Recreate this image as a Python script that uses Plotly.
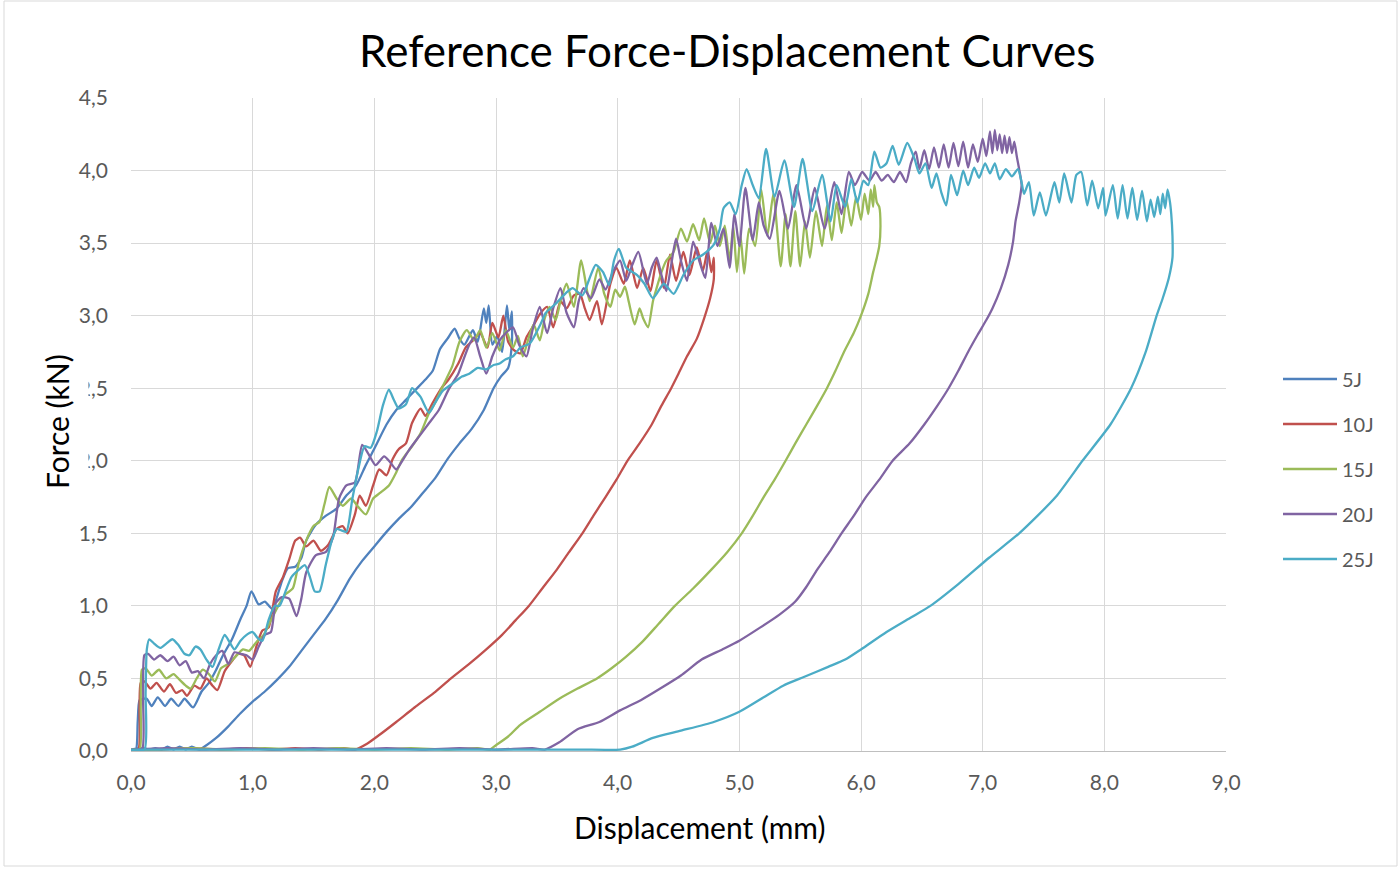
import plotly.graph_objects as go

# ---------------- data ----------------
series_names = ["5J", "10J", "15J", "20J", "25J"]
series_colors = ["#4F81BD", "#C0504D", "#9BBB59", "#8064A2", "#4BACC6"]
x_ticks = [0, 1, 2, 3, 4, 5, 6, 7, 8, 9]
y_ticks = [0, 0.5, 1.0, 1.5, 2.0, 2.5, 3.0, 3.5, 4.0, 4.5]

# (displacement mm, force kN) – loading, unloading, return along zero
curve_5J = [
    (0.00, 0.01), (0.04, 0.01), (0.055, 0.20), (0.07, 0.35), (0.10, 0.36), (0.13, 0.36), (0.17, 0.31),
    (0.22, 0.37), (0.28, 0.31), (0.33, 0.36), (0.39, 0.31), (0.44, 0.36), (0.51, 0.30), (0.58, 0.41),
    (0.64, 0.47), (0.70, 0.56), (0.75, 0.65), (0.83, 0.77), (0.90, 0.91), (0.95, 1.00), (0.99, 1.10),
    (1.05, 1.01), (1.10, 1.03), (1.16, 0.98), (1.24, 1.17), (1.29, 1.26), (1.35, 1.27), (1.40, 1.33),
    (1.44, 1.45), (1.52, 1.56), (1.60, 1.62), (1.69, 1.67), (1.77, 1.76), (1.85, 1.83), (1.93, 1.97),
    (2.01, 2.10), (2.10, 2.25), (2.18, 2.35), (2.26, 2.42), (2.34, 2.49), (2.42, 2.56), (2.48, 2.62),
    (2.54, 2.77), (2.60, 2.84), (2.66, 2.91), (2.70, 2.84), (2.74, 2.80), (2.81, 2.90), (2.85, 2.82),
    (2.90, 3.05), (2.92, 2.95), (2.94, 3.07), (2.97, 2.80), (3.01, 2.86), (3.05, 2.75), (3.09, 3.07),
    (3.11, 2.90), (3.13, 3.03), (3.13, 2.80),
    (3.10, 2.64), (3.04, 2.58), (2.98, 2.50), (2.90, 2.35), (2.80, 2.22), (2.70, 2.12), (2.60, 2.01),
    (2.50, 1.88), (2.40, 1.78), (2.30, 1.68), (2.20, 1.60), (2.10, 1.51), (2.00, 1.41), (1.90, 1.31),
    (1.80, 1.19), (1.70, 1.04), (1.60, 0.91), (1.50, 0.80), (1.40, 0.69), (1.30, 0.58), (1.20, 0.49),
    (1.10, 0.41), (1.00, 0.34), (0.90, 0.26), (0.80, 0.17), (0.70, 0.09), (0.62, 0.04), (0.56, 0.01),
    (0.50, 0.03), (0.45, 0.01), (0.40, 0.03), (0.35, 0.01), (0.30, 0.03), (0.25, 0.01), (0.20, 0.02),
    (0.15, 0.01), (0.10, 0.02), (0.00, 0.01),
]

curve_10J = [
    (0.00, 0.01), (0.06, 0.01), (0.07, 0.30), (0.08, 0.47), (0.11, 0.48), (0.16, 0.43), (0.21, 0.47),
    (0.27, 0.41), (0.32, 0.46), (0.37, 0.40), (0.42, 0.42), (0.46, 0.38), (0.52, 0.45), (0.57, 0.43),
    (0.62, 0.50), (0.67, 0.45), (0.71, 0.42), (0.77, 0.55), (0.83, 0.62), (0.88, 0.67), (0.93, 0.66),
    (0.98, 0.58), (1.03, 0.72), (1.08, 0.83), (1.13, 0.85), (1.19, 1.10), (1.25, 1.20), (1.30, 1.32),
    (1.35, 1.45), (1.39, 1.47), (1.44, 1.41), (1.50, 1.45), (1.56, 1.38), (1.62, 1.42), (1.69, 1.53),
    (1.74, 1.55), (1.78, 1.50), (1.84, 1.63), (1.88, 1.76), (1.93, 1.69), (1.99, 1.83), (2.04, 1.94),
    (2.10, 1.90), (2.15, 2.01), (2.20, 2.08), (2.26, 2.12), (2.31, 2.26), (2.38, 2.36), (2.42, 2.31),
    (2.48, 2.40), (2.56, 2.51), (2.61, 2.56), (2.69, 2.67), (2.75, 2.78), (2.81, 2.83), (2.87, 2.88),
    (2.93, 2.78), (2.97, 2.95), (3.02, 2.85), (3.06, 3.00), (3.10, 2.82), (3.15, 2.76), (3.20, 2.74),
    (3.25, 2.85), (3.30, 2.92), (3.36, 3.01), (3.42, 3.06), (3.47, 2.92), (3.53, 3.10), (3.58, 3.05),
    (3.64, 3.14), (3.69, 3.15), (3.73, 3.05), (3.77, 2.97), (3.83, 3.10), (3.87, 2.94), (3.94, 3.22),
    (3.99, 3.33), (4.05, 3.22), (4.10, 3.38), (4.16, 3.19), (4.21, 3.33), (4.27, 3.17), (4.32, 3.38),
    (4.38, 3.19), (4.43, 3.42), (4.48, 3.24), (4.54, 3.44), (4.59, 3.28), (4.65, 3.47), (4.70, 3.31),
    (4.74, 3.45), (4.77, 3.30), (4.79, 3.40),
    (4.79, 3.25), (4.76, 3.12), (4.71, 2.98), (4.65, 2.84), (4.57, 2.72), (4.50, 2.60), (4.44, 2.50),
    (4.36, 2.38), (4.28, 2.25), (4.18, 2.12), (4.08, 2.00), (3.99, 1.87), (3.90, 1.75), (3.80, 1.62),
    (3.71, 1.50), (3.60, 1.37), (3.50, 1.25), (3.38, 1.12), (3.27, 1.00), (3.16, 0.90), (3.05, 0.80),
    (2.92, 0.70), (2.78, 0.60), (2.63, 0.50), (2.49, 0.40), (2.33, 0.30), (2.18, 0.20), (2.04, 0.11),
    (1.94, 0.05), (1.84, 0.01),
    (1.75, 0.02), (1.55, 0.01), (1.35, 0.02), (1.15, 0.01), (0.95, 0.02), (0.75, 0.01), (0.50, 0.02),
    (0.25, 0.01), (0.00, 0.01),
]

curve_15J = [
    (0.00, 0.01), (0.07, 0.01), (0.08, 0.30), (0.09, 0.56), (0.12, 0.57), (0.17, 0.52), (0.23, 0.56),
    (0.29, 0.50), (0.35, 0.53), (0.40, 0.49), (0.45, 0.45), (0.49, 0.43), (0.54, 0.50), (0.59, 0.56),
    (0.64, 0.53), (0.69, 0.48), (0.74, 0.57), (0.80, 0.60), (0.86, 0.65), (0.92, 0.70), (0.97, 0.69),
    (1.03, 0.75), (1.09, 0.80), (1.15, 0.90), (1.21, 1.00), (1.27, 1.08), (1.33, 1.12), (1.38, 1.30),
    (1.44, 1.45), (1.50, 1.55), (1.55, 1.58), (1.59, 1.70), (1.63, 1.82), (1.69, 1.74), (1.74, 1.69),
    (1.81, 1.74), (1.86, 1.69), (1.93, 1.63), (1.99, 1.74), (2.05, 1.78), (2.12, 1.83), (2.18, 1.92),
    (2.23, 2.01), (2.31, 2.10), (2.38, 2.19), (2.45, 2.33), (2.50, 2.40), (2.56, 2.51), (2.64, 2.65),
    (2.70, 2.82), (2.76, 2.90), (2.82, 2.83), (2.87, 2.90), (2.92, 2.78), (2.97, 2.88), (3.03, 2.76),
    (3.08, 2.90), (3.14, 2.78), (3.18, 2.86), (3.22, 2.72), (3.27, 2.85), (3.31, 2.94), (3.36, 2.83),
    (3.40, 2.98), (3.44, 3.06), (3.49, 2.97), (3.53, 3.10), (3.58, 3.22), (3.64, 3.06), (3.70, 3.38),
    (3.77, 3.10), (3.84, 3.33), (3.89, 3.15), (3.94, 3.06), (3.98, 3.18), (4.02, 3.13), (4.06, 3.20),
    (4.09, 3.10), (4.14, 2.94), (4.18, 3.05), (4.21, 2.98), (4.25, 2.92), (4.29, 3.10), (4.32, 3.19),
    (4.36, 3.30), (4.40, 3.38), (4.46, 3.44), (4.52, 3.60), (4.57, 3.51), (4.62, 3.63), (4.67, 3.52),
    (4.71, 3.67), (4.76, 3.50), (4.80, 3.62), (4.84, 3.48), (4.88, 3.62), (4.92, 3.38), (4.95, 3.62),
    (4.98, 3.30), (5.01, 3.55), (5.04, 3.29), (5.08, 3.60), (5.13, 3.48), (5.18, 3.87), (5.23, 3.55),
    (5.28, 3.84), (5.34, 3.34), (5.38, 3.70), (5.42, 3.34), (5.46, 3.72), (5.50, 3.34), (5.54, 3.65),
    (5.58, 3.40), (5.63, 3.72), (5.68, 3.48), (5.72, 3.76), (5.76, 3.52), (5.80, 3.78), (5.84, 3.57),
    (5.88, 3.80), (5.92, 3.62), (5.96, 3.82), (6.00, 3.66), (6.03, 3.84), (6.06, 3.70), (6.08, 3.87),
    (6.10, 3.75), (6.11, 3.90), (6.13, 3.78), (6.15, 3.75),
    (6.16, 3.62), (6.15, 3.48), (6.13, 3.40), (6.10, 3.30), (6.06, 3.15), (6.00, 3.00), (5.94, 2.88),
    (5.86, 2.75), (5.79, 2.62), (5.72, 2.50), (5.64, 2.38), (5.55, 2.25), (5.46, 2.12), (5.38, 2.00),
    (5.29, 1.87), (5.20, 1.75), (5.11, 1.62), (5.02, 1.50), (4.90, 1.37), (4.77, 1.25), (4.62, 1.12),
    (4.47, 1.00), (4.33, 0.87), (4.20, 0.75), (4.07, 0.65), (3.95, 0.57), (3.83, 0.50), (3.67, 0.43),
    (3.52, 0.36), (3.36, 0.27), (3.20, 0.18), (3.10, 0.10), (3.00, 0.04), (2.95, 0.01),
    (2.85, 0.02), (2.60, 0.01), (2.30, 0.02), (2.00, 0.01), (1.70, 0.02), (1.40, 0.01), (1.10, 0.02),
    (0.80, 0.01), (0.50, 0.02), (0.20, 0.01), (0.00, 0.01),
]

curve_20J = [
    (0.00, 0.01), (0.09, 0.01), (0.10, 0.35), (0.11, 0.66), (0.14, 0.67), (0.19, 0.63), (0.24, 0.66),
    (0.30, 0.62), (0.35, 0.65), (0.40, 0.59), (0.45, 0.62), (0.50, 0.54), (0.55, 0.55), (0.60, 0.50),
    (0.65, 0.60), (0.70, 0.66), (0.75, 0.69), (0.80, 0.60), (0.85, 0.68), (0.90, 0.67), (0.95, 0.66),
    (1.00, 0.63), (1.05, 0.72), (1.10, 0.80), (1.15, 0.82), (1.19, 1.02), (1.24, 1.06), (1.30, 1.05),
    (1.36, 0.93), (1.40, 1.05), (1.44, 1.23), (1.52, 1.35), (1.60, 1.37), (1.66, 1.47), (1.71, 1.74),
    (1.77, 1.83), (1.84, 1.85), (1.90, 2.11), (1.95, 2.05), (2.01, 1.97), (2.08, 2.03), (2.13, 1.99),
    (2.18, 1.94), (2.23, 2.00), (2.29, 2.08), (2.37, 2.17), (2.45, 2.26), (2.53, 2.35), (2.61, 2.49),
    (2.69, 2.60), (2.73, 2.69), (2.78, 2.80), (2.82, 2.85), (2.87, 2.72), (2.92, 2.60), (2.97, 2.72),
    (3.03, 2.83), (3.08, 2.88), (3.14, 2.92), (3.19, 2.80), (3.25, 2.72), (3.30, 2.90), (3.36, 3.06),
    (3.42, 2.88), (3.47, 3.05), (3.53, 3.19), (3.58, 3.02), (3.64, 2.92), (3.68, 3.10), (3.72, 3.19),
    (3.78, 3.12), (3.85, 3.25), (3.90, 3.18), (3.96, 3.30), (4.02, 3.38), (4.07, 3.24), (4.12, 3.35),
    (4.17, 3.44), (4.24, 3.22), (4.28, 3.33), (4.32, 3.40), (4.36, 3.28), (4.40, 3.17), (4.44, 3.35),
    (4.48, 3.53), (4.52, 3.38), (4.57, 3.24), (4.62, 3.51), (4.67, 3.38), (4.72, 3.26), (4.77, 3.64),
    (4.82, 3.48), (4.87, 3.60), (4.92, 3.33), (4.96, 3.70), (5.00, 3.48), (5.05, 3.88), (5.11, 3.52),
    (5.16, 3.78), (5.20, 3.62), (5.25, 3.53), (5.33, 3.86), (5.40, 3.60), (5.47, 3.90), (5.55, 3.60),
    (5.62, 3.88), (5.70, 3.60), (5.78, 3.92), (5.84, 3.70), (5.90, 3.99), (5.95, 3.90), (6.01, 3.99),
    (6.07, 3.93), (6.12, 3.99), (6.17, 3.93), (6.22, 3.97), (6.27, 3.92), (6.32, 3.99), (6.37, 3.92),
    (6.41, 4.05), (6.45, 4.13), (6.48, 4.01), (6.52, 4.14), (6.56, 4.01), (6.60, 4.16), (6.64, 4.02),
    (6.68, 4.18), (6.72, 4.02), (6.76, 4.19), (6.80, 4.03), (6.84, 4.20), (6.88, 4.02), (6.92, 4.18),
    (6.96, 4.06), (7.00, 4.22), (7.03, 4.10), (7.06, 4.27), (7.08, 4.12), (7.10, 4.28), (7.12, 4.14),
    (7.14, 4.25), (7.16, 4.12), (7.18, 4.24), (7.20, 4.12), (7.22, 4.23), (7.24, 4.12), (7.26, 4.20),
    (7.28, 4.10), (7.30, 4.01), (7.32, 3.90),
    (7.30, 3.78), (7.27, 3.65), (7.25, 3.51), (7.21, 3.35), (7.15, 3.19), (7.08, 3.05), (7.03, 2.97),
    (6.96, 2.87), (6.88, 2.75), (6.80, 2.62), (6.72, 2.50), (6.62, 2.37), (6.52, 2.25), (6.40, 2.12),
    (6.26, 2.00), (6.15, 1.87), (6.04, 1.75), (5.94, 1.62), (5.84, 1.50), (5.74, 1.37), (5.64, 1.25),
    (5.55, 1.13), (5.46, 1.03), (5.33, 0.94), (5.17, 0.85), (5.00, 0.76), (4.86, 0.70), (4.69, 0.63),
    (4.52, 0.52), (4.35, 0.43), (4.19, 0.35), (4.02, 0.28), (3.85, 0.20), (3.67, 0.15), (3.52, 0.06),
    (3.40, 0.01),
    (3.30, 0.02), (3.00, 0.01), (2.70, 0.02), (2.40, 0.01), (2.10, 0.02), (1.80, 0.01), (1.50, 0.02),
    (1.20, 0.01), (0.90, 0.02), (0.60, 0.01), (0.30, 0.02), (0.00, 0.01),
]

curve_25J = [
    (0.00, 0.01), (0.11, 0.01), (0.12, 0.40), (0.13, 0.70), (0.15, 0.77), (0.19, 0.74), (0.24, 0.71),
    (0.29, 0.74), (0.34, 0.77), (0.39, 0.73), (0.44, 0.67), (0.48, 0.66), (0.53, 0.72), (0.57, 0.70),
    (0.62, 0.63), (0.67, 0.58), (0.72, 0.70), (0.77, 0.80), (0.81, 0.75), (0.85, 0.70), (0.90, 0.76),
    (0.95, 0.80), (1.00, 0.82), (1.04, 0.78), (1.08, 0.76), (1.13, 0.90), (1.18, 1.00), (1.22, 1.00),
    (1.27, 1.10), (1.32, 1.20), (1.38, 1.25), (1.43, 1.28), (1.47, 1.20), (1.51, 1.10), (1.55, 1.10),
    (1.60, 1.28), (1.65, 1.45), (1.69, 1.53), (1.73, 1.52), (1.77, 1.51), (1.82, 1.74), (1.87, 1.95),
    (1.92, 2.10), (1.97, 2.09), (2.02, 2.20), (2.07, 2.38), (2.12, 2.49), (2.16, 2.42), (2.20, 2.36),
    (2.26, 2.39), (2.31, 2.50), (2.35, 2.47), (2.38, 2.44), (2.45, 2.33), (2.50, 2.40), (2.56, 2.48),
    (2.64, 2.53), (2.72, 2.58), (2.78, 2.60), (2.85, 2.64), (2.92, 2.63), (2.98, 2.66), (3.03, 2.67),
    (3.08, 2.70), (3.14, 2.72), (3.20, 2.78), (3.28, 2.81), (3.36, 2.93), (3.41, 3.02), (3.50, 3.09),
    (3.58, 3.16), (3.63, 3.19), (3.71, 3.14), (3.77, 3.26), (3.82, 3.35), (3.88, 3.30), (3.93, 3.21),
    (3.97, 3.38), (4.01, 3.46), (4.07, 3.33), (4.16, 3.28), (4.22, 3.22), (4.29, 3.12), (4.38, 3.22),
    (4.46, 3.15), (4.54, 3.28), (4.62, 3.38), (4.70, 3.42), (4.79, 3.49), (4.84, 3.60), (4.87, 3.74),
    (4.92, 3.78), (4.97, 3.70), (5.02, 3.90), (5.06, 4.01), (5.11, 3.90), (5.16, 3.81), (5.22, 4.15),
    (5.29, 3.82), (5.37, 4.07), (5.45, 3.75), (5.52, 4.08), (5.60, 3.72), (5.68, 3.97), (5.75, 3.65),
    (5.80, 3.90), (5.87, 3.75), (5.92, 3.94), (5.97, 3.78), (6.02, 3.93), (6.06, 3.90), (6.11, 4.13),
    (6.16, 4.02), (6.21, 4.05), (6.26, 4.17), (6.31, 4.04), (6.38, 4.19), (6.44, 4.08), (6.48, 3.98),
    (6.53, 4.05), (6.58, 3.88), (6.62, 3.98), (6.66, 3.85), (6.70, 3.76), (6.74, 3.97), (6.79, 3.83),
    (6.84, 4.00), (6.88, 3.90), (6.93, 4.02), (6.97, 3.95), (7.02, 4.05), (7.06, 3.98), (7.10, 4.05),
    (7.14, 3.94), (7.19, 4.01), (7.24, 3.96), (7.29, 4.01), (7.32, 3.92), (7.34, 3.84), (7.38, 3.92),
    (7.42, 3.69), (7.47, 3.85), (7.52, 3.69), (7.59, 3.92), (7.63, 3.78), (7.67, 3.98), (7.73, 3.78),
    (7.77, 3.97), (7.81, 3.99), (7.86, 3.76), (7.90, 3.93), (7.95, 3.74), (7.99, 3.88), (8.01, 3.69),
    (8.07, 3.90), (8.11, 3.67), (8.15, 3.90), (8.19, 3.67), (8.23, 3.88), (8.27, 3.66), (8.31, 3.86),
    (8.35, 3.65), (8.38, 3.80), (8.41, 3.68), (8.44, 3.82), (8.46, 3.70), (8.48, 3.84), (8.50, 3.74),
    (8.52, 3.87), (8.54, 3.78), (8.55, 3.70), (8.56, 3.55),
    (8.56, 3.40), (8.53, 3.26), (8.48, 3.12), (8.43, 3.00), (8.34, 2.75), (8.22, 2.50), (8.05, 2.25),
    (7.82, 2.00), (7.60, 1.75), (7.30, 1.50), (7.05, 1.33), (6.80, 1.15), (6.57, 1.00), (6.41, 0.92),
    (6.21, 0.82), (6.00, 0.70), (5.87, 0.63), (5.73, 0.58), (5.53, 0.51), (5.36, 0.45), (5.20, 0.37),
    (5.00, 0.27), (4.79, 0.20), (4.52, 0.14), (4.29, 0.09), (4.12, 0.03), (4.02, 0.01),
    (3.70, 0.01), (3.30, 0.01), (2.90, 0.01), (2.50, 0.01), (2.10, 0.01), (1.70, 0.01), (1.30, 0.01),
    (0.90, 0.01), (0.50, 0.01), (0.00, 0.01),
]

curves = [curve_5J, curve_10J, curve_15J, curve_20J, curve_25J]

# ---------------- figure ----------------
FONT = "Lato"
fig = go.Figure()
for name, color, pts in zip(series_names, series_colors, curves):
    fig.add_trace(go.Scatter(
        x=[p[0] for p in pts], y=[p[1] for p in pts],
        mode="lines", name=name, legendgroup=name,
        line=dict(color=color, width=2.3, shape="spline", smoothing=0.6),
        hoverinfo="skip",
    ))

L, R, T, B = 131, 1226, 98, 751
W, H = 1398, 870
PW, PH = R - L, B - T


def px(xp):
    return (xp - L) / PW


def py(yp):
    return (B - yp) / PH


axis_common = dict(
    showgrid=True, gridcolor="#D9D9D9", gridwidth=1, zeroline=False,
    ticks="", tickfont=dict(family=FONT, size=21, color="#595959"),
    tickformat=".1f", fixedrange=True,
)
fig.update_layout(
    width=W, height=H, autosize=False,
    margin=dict(l=L, r=W - R, t=T, b=H - B, pad=0),
    paper_bgcolor="white", plot_bgcolor="white",
    separators=", ",
    font=dict(family=FONT, color="#595959"),
    xaxis=dict(range=[0, 9], tickvals=x_ticks, showline=True, linecolor="#BFBFBF", linewidth=1,
               ticklabelstandoff=13, **axis_common),
    yaxis=dict(range=[0, 4.5], tickvals=y_ticks, showline=False, ticklabelstandoff=22, **axis_common),
    showlegend=True,
    legend=dict(
        x=px(1278), y=py(469), xanchor="left", yanchor="middle",
        font=dict(family=FONT, size=20, color="#595959"),
        bgcolor="rgba(0,0,0,0)", traceorder="grouped", tracegroupgap=16,
        itemwidth=54,
    ),
    annotations=[
        dict(text="Reference Force-Displacement Curves", x=px(727), y=py(50), xref="paper", yref="paper",
             xanchor="center", yanchor="middle", showarrow=False,
             font=dict(family=FONT, size=44, color="#000000")),
        dict(text="Displacement (mm)", x=px(700), y=py(827), xref="paper", yref="paper",
             xanchor="center", yanchor="middle", showarrow=False,
             font=dict(family=FONT, size=30, color="#000000")),
        dict(text="Force (kN)", x=px(57), y=py(422), xref="paper", yref="paper",
             xanchor="center", yanchor="middle", showarrow=False, textangle=-90,
             bgcolor="white", borderpad=13,
             font=dict(family=FONT, size=30, color="#000000")),
    ],
    shapes=[
        dict(type="rect", xref="paper", yref="paper", x0=px(4), x1=px(1397), y0=py(866), y1=py(1),
             line=dict(color="#D9D9D9", width=1), fillcolor="rgba(0,0,0,0)", layer="below"),
    ],
)

fig.write_html("out.html", config={"displayModeBar": False},
               post_script="document.body.style.margin='0';")
